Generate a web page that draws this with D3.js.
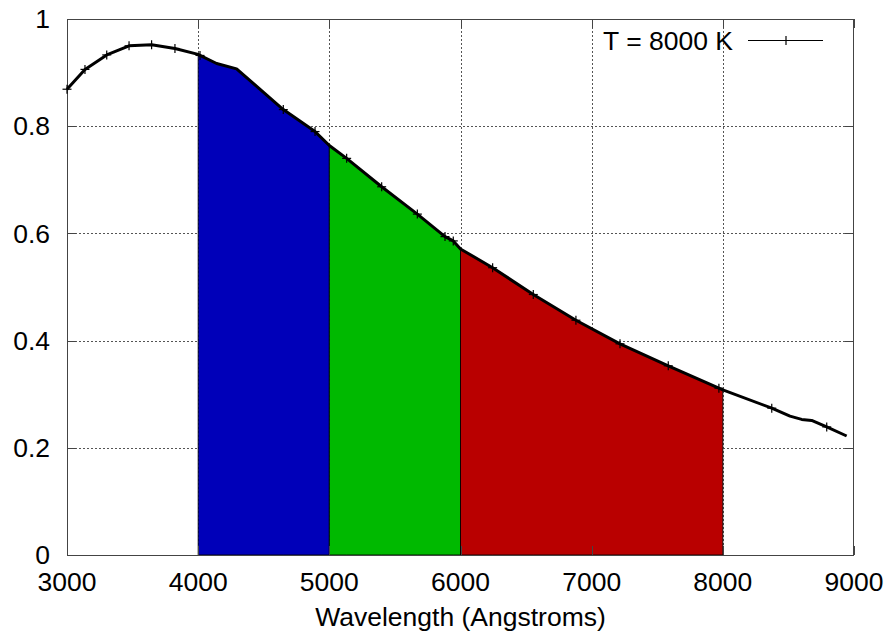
<!DOCTYPE html>
<html>
<head>
<meta charset="utf-8">
<script src="https://cdn.jsdelivr.net/npm/d3@7"></script>
<style>
  html, body { margin: 0; padding: 0; background: #fff; }
  svg text { font-family: "Liberation Sans", Arial, Helvetica, sans-serif; fill: #000; }
</style>
</head>
<body>
<svg id="chart" width="888" height="638"></svg>
<script>
// ---- Data ----
const curveWavelength = [3000, 3137, 3303, 3473, 3645, 3823, 4000, 4014, 4141, 4293, 4649, 4891, 5000, 5132, 5399, 5671, 5882, 5945, 6000, 6245, 6555, 6880, 7216, 7584, 8000, 8373, 8512, 8601, 8677, 8792, 8944];
const curveValue      = [0.869, 0.906, 0.933, 0.950, 0.952, 0.945, 0.934, 0.932, 0.917, 0.907, 0.831, 0.790, 0.764, 0.740, 0.687, 0.636, 0.594, 0.586, 0.571, 0.536, 0.486, 0.438, 0.394, 0.353, 0.308, 0.274, 0.259, 0.253, 0.251, 0.239, 0.222];
const markerWavelength = [3000, 3137, 3303, 3473, 3645, 3823, 4014, 4649, 4891, 5132, 5399, 5671, 5882, 5945, 6245, 6555, 6880, 7216, 7584, 7970, 8373, 8792];
const bandNames  = ["blue", "green", "red"];
const bandStart  = [4000, 5000, 6000];
const bandEnd    = [5000, 6000, 8000];
const bandColors = ["#0000b9", "#00b900", "#b90000"];
const xTicks = [3000, 4000, 5000, 6000, 7000, 8000, 9000];
const yTicks = [0, 0.2, 0.4, 0.6, 0.8, 1];
const yTickLabels = ["0", "0.2", "0.4", "0.6", "0.8", "1"];
const legendLabel = "T = 8000 K";
const xTitle = "Wavelength (Angstroms)";

// ---- Layout ----
const svg = d3.select("#chart");
const L = 67, R = 854, T = 19, B = 555;
const x = d3.scaleLinear().domain([3000, 9000]).range([L, R]);
const y = d3.scaleLinear().domain([0, 1]).range([B, T]);
const curve = curveWavelength.map((w, i) => ({ w, v: curveValue[i] }));
const interp = w => {
  for (let i = 1; i < curve.length; i++) {
    if (w <= curve[i].w) {
      const a = curve[i - 1], b = curve[i];
      return a.v + (b.v - a.v) * (w - a.w) / (b.w - a.w);
    }
  }
  return curve[curve.length - 1].v;
};

// grid
const grid = svg.append("g").attr("stroke", "#555").attr("stroke-width", 1).attr("stroke-dasharray", "2,2");
xTicks.filter(t => t > 3000 && t < 9000).forEach(t => {
  grid.append("line").attr("x1", Math.round(x(t)) + 0.5).attr("x2", Math.round(x(t)) + 0.5).attr("y1", T).attr("y2", B);
});
yTicks.filter(t => t > 0 && t < 1).forEach(t => {
  grid.append("line").attr("y1", Math.round(y(t)) + 0.5).attr("y2", Math.round(y(t)) + 0.5).attr("x1", L).attr("x2", R);
});

// bands
const area = d3.area().x(d => x(d.w)).y0(y(0)).y1(d => y(d.v));
bandNames.forEach((name, i) => {
  const lo = bandStart[i], hi = bandEnd[i];
  const pts = curve.filter(d => d.w >= lo && d.w <= hi);
  if (pts[0].w !== lo) pts.unshift({ w: lo, v: interp(lo) });
  if (pts[pts.length - 1].w !== hi) pts.push({ w: hi, v: interp(hi) });
  svg.append("path").datum(pts).attr("d", area)
    .attr("fill", bandColors[i]).attr("stroke", "#000").attr("stroke-width", 1).attr("stroke-opacity", 0.85);
});

// border
svg.append("rect").attr("x", L + 0.5).attr("y", T + 0.5).attr("width", R - L - 1).attr("height", B - T)
  .attr("fill", "none").attr("stroke", "#444").attr("stroke-width", 1);

// ticks (inside, on all four sides)
const tk = svg.append("g").attr("stroke", "#444").attr("stroke-width", 1);
xTicks.forEach(t => {
  const xx = Math.round(x(t)) + 0.5;
  tk.append("line").attr("x1", xx).attr("x2", xx).attr("y1", B).attr("y2", B - 9);
  tk.append("line").attr("x1", xx).attr("x2", xx).attr("y1", T).attr("y2", T + 9);
});
yTicks.forEach(t => {
  const yy = Math.round(y(t)) + 0.5;
  tk.append("line").attr("y1", yy).attr("y2", yy).attr("x1", L).attr("x2", L + 9);
  tk.append("line").attr("y1", yy).attr("y2", yy).attr("x1", R).attr("x2", R - 9);
});

// curve
const line = d3.line().x(d => x(d.w)).y(d => y(d.v));
svg.append("path").datum(curve).attr("d", line)
  .attr("fill", "none").attr("stroke", "#000").attr("stroke-width", 3).attr("stroke-linejoin", "round");

// markers
const mk = svg.append("g").attr("stroke", "#000").attr("stroke-width", 1.2);
markerWavelength.forEach(w => {
  const cx = x(w), cy = y(interp(w));
  mk.append("line").attr("x1", cx - 4.5).attr("x2", cx + 4.5).attr("y1", cy).attr("y2", cy);
  mk.append("line").attr("x1", cx).attr("x2", cx).attr("y1", cy - 4.5).attr("y2", cy + 4.5);
});

// tick labels
const fs = 26.5;
xTicks.forEach(t => {
  svg.append("text").attr("x", x(t)).attr("y", 591).attr("text-anchor", "middle")
    .attr("font-size", fs).text(String(t));
});
yTicks.forEach((t, i) => {
  svg.append("text").attr("x", 50).attr("y", y(t)).attr("dy", "0.35em").attr("text-anchor", "end")
    .attr("font-size", fs).text(yTickLabels[i]);
});

// axis title
svg.append("text").attr("x", (L + R) / 2).attr("y", 626).attr("text-anchor", "middle")
  .attr("font-size", fs).text(xTitle);

// legend
svg.append("text").attr("x", 733).attr("y", 50).attr("text-anchor", "end").attr("font-size", fs).text(legendLabel);
svg.append("line").attr("x1", 748).attr("x2", 823).attr("y1", 40.5).attr("y2", 40.5).attr("stroke", "#000").attr("stroke-width", 1.2);
svg.append("line").attr("x1", 786).attr("x2", 786).attr("y1", 36).attr("y2", 45).attr("stroke", "#000").attr("stroke-width", 1.2);
</script>
</body>
</html>
